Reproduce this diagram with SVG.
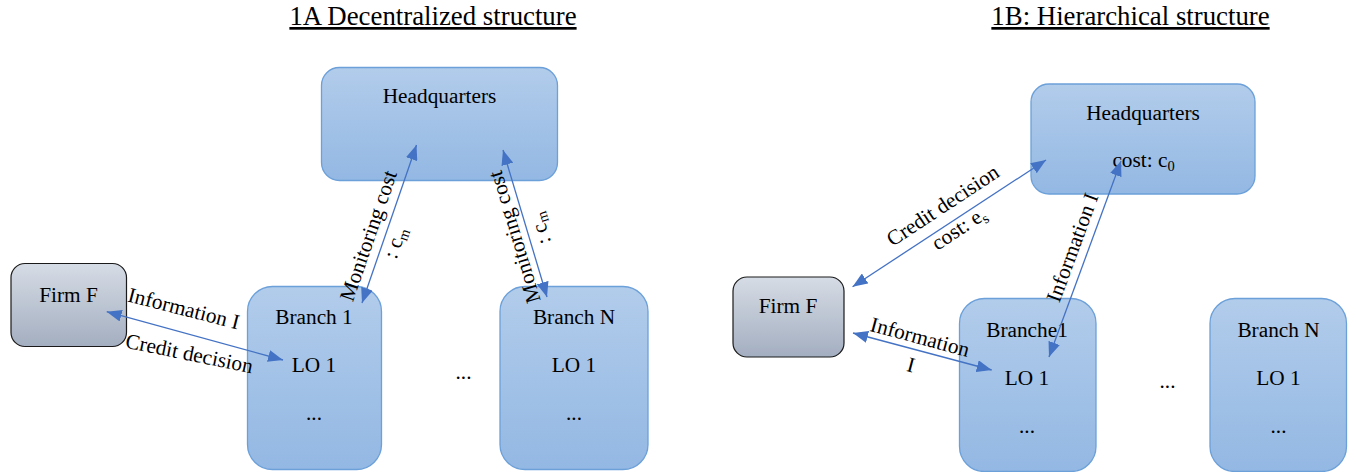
<svg xmlns="http://www.w3.org/2000/svg" width="1356" height="472" viewBox="0 0 1356 472">
<defs>
<linearGradient id="gb" x1="0" y1="0" x2="0" y2="1">
<stop offset="0" stop-color="#b2cceb"/>
<stop offset="1" stop-color="#93b8e3"/>
</linearGradient>
<linearGradient id="gg" x1="0" y1="0" x2="0" y2="1">
<stop offset="0" stop-color="#d6dce5"/>
<stop offset="1" stop-color="#a3aec0"/>
</linearGradient>
<marker id="ah" markerUnits="userSpaceOnUse" markerWidth="15" markerHeight="12" viewBox="0 0 15 12" refX="15" refY="6" orient="auto-start-reverse">
<path d="M0,0 L15,6 L0,12 z" fill="#4472c4"/>
</marker>
</defs>
<style>
.t{font-family:"Liberation Serif","Times New Roman",serif;font-size:21.3px;fill:#000}
.m{text-anchor:middle}
.title{font-size:26.8px;text-decoration:underline}
.blue{fill:url(#gb);stroke:#6ca0d9;stroke-width:1.3}
.gray{fill:url(#gg);stroke:#1a1a1a;stroke-width:1.2}
.c{fill:none;stroke:#4472c4;stroke-width:1.3;marker-start:url(#ah);marker-end:url(#ah)}
.sub{font-size:14.5px}
</style>

<text class="t m title" x="433" y="25">1A Decentralized structure</text>
<text class="t m title" x="1130.5" y="25">1B: Hierarchical structure</text>

<g id="hq-a">
<rect class="blue" x="321.5" y="67.5" width="236" height="113" rx="18"/>
<text class="t m" x="439.5" y="103">Headquarters</text>
</g>
<g id="firm-a">
<rect class="gray" x="11" y="263.5" width="115.5" height="83" rx="14"/>
<text class="t m" x="68.5" y="301.5">Firm F</text>
</g>
<g id="branch1-a">
<rect class="blue" x="247.5" y="286.5" width="134" height="183" rx="25"/>
<text class="t m" x="314" y="324">Branch 1</text>
<text class="t m" x="314" y="372">LO 1</text>
<text class="t m" x="314" y="420">...</text>
</g>
<g id="branchN-a">
<rect class="blue" x="500" y="286.5" width="148" height="183" rx="25"/>
<text class="t m" x="574" y="324">Branch N</text>
<text class="t m" x="574" y="372">LO 1</text>
<text class="t m" x="574" y="420">...</text>
</g>
<text class="t m" x="463.5" y="379">...</text>

<g id="hq-b">
<rect class="blue" x="1031" y="84" width="224" height="110" rx="18"/>
<text class="t m" x="1143" y="120">Headquarters</text>
<text class="t m" x="1143.5" y="167">cost: c<tspan class="sub" dy="4">0</tspan></text>
</g>
<g id="firm-b">
<rect class="gray" x="733" y="277" width="111" height="80" rx="14"/>
<text class="t m" x="788" y="313">Firm F</text>
</g>
<g id="branch1-b">
<rect class="blue" x="959.5" y="298.5" width="136.5" height="173" rx="25"/>
<text class="t m" x="1027" y="336.5">Branche1</text>
<text class="t m" x="1027" y="384.5">LO 1</text>
<text class="t m" x="1027" y="432.5">...</text>
</g>
<g id="branchN-b">
<rect class="blue" x="1210" y="298.5" width="136.5" height="173" rx="25"/>
<text class="t m" x="1278.5" y="336.5">Branch N</text>
<text class="t m" x="1278.5" y="384.5">LO 1</text>
<text class="t m" x="1278.5" y="432.5">...</text>
</g>
<text class="t m" x="1167.5" y="388">...</text>

<g id="connectors">
<path class="c" d="M106.7,311.7 L283,360"/>
<path class="c" d="M416.5,145 L362,303"/>
<path class="c" d="M503,150 L547,297"/>
<path class="c" d="M852.6,286.7 L1046,160"/>
<path class="c" d="M853,333 L991.7,370"/>
<path class="c" d="M1049,357 L1121,161"/>
<text class="t m" transform="translate(182,315.3) rotate(14.3)">Information I</text>
<text class="t m" transform="translate(188,360.4) rotate(11.5)">Credit decision</text>
<text class="t m" transform="translate(375,238) rotate(-71)">Monitoring cost</text>
<text class="t m" transform="translate(401.5,245) rotate(-71)">: c<tspan class="sub" dy="4">m</tspan></text>
<text class="t m" transform="translate(521,235) rotate(-106.7)">Monitoring cost</text>
<text class="t m" transform="translate(546.5,226.6) rotate(-106.7)">: c<tspan class="sub" dy="4">m</tspan></text>
<text class="t m" transform="translate(946.6,211.4) rotate(-33.4)">Credit decision</text>
<text class="t m" transform="translate(962.8,234.2) rotate(-33.4)">cost: e<tspan class="sub" dy="4">s</tspan></text>
<text class="t m" transform="translate(1079,250) rotate(-69.8)">Information I</text>
<text class="t m" transform="translate(918.2,343.8) rotate(15)">Information</text>
<text class="t m" transform="translate(909.2,371.6) rotate(15)">I</text>
</g>
</svg>
